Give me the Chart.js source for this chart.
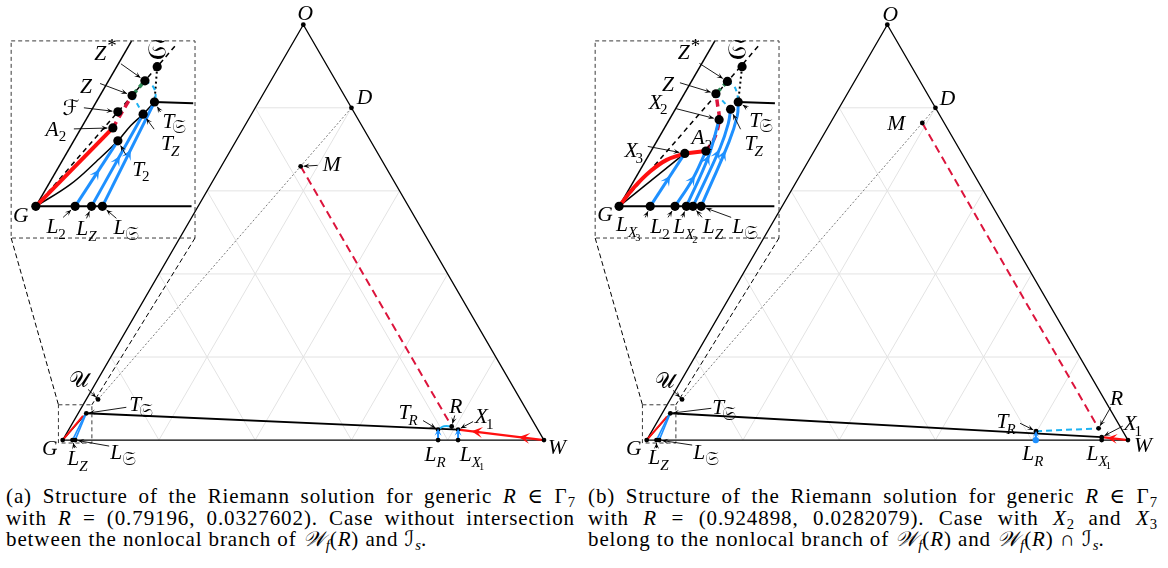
<!DOCTYPE html>
<html>
<head>
<meta charset="utf-8">
<script src="https://cdn.jsdelivr.net/npm/chart.js@4.4.0/dist/chart.umd.min.js"></script>
<style>
  html, body { margin: 0; padding: 0; background: #fff; }
  body { position: relative; width: 1168px; height: 568px; overflow: hidden; }
  canvas { position: absolute; top: 0; }
  .cap { position: absolute; top: 486px; width: 569px; font-family: "Liberation Serif", "DejaVu Serif", serif;
         font-size: 21px; line-height: 21.5px; color: #000; letter-spacing: 0.9px; }
  .cap .j { text-align: justify; text-align-last: justify; }
  .cap sub { font-size: 0.7em; vertical-align: -0.3em; line-height: 0; letter-spacing: 0; }
  .cap .m { font-family: "DejaVu Serif", "DejaVu Sans", serif; font-style: italic; }
</style>
</head>
<body>
<canvas id="panelA" width="584" height="480" style="left:0px"></canvas>
<canvas id="panelB" width="584" height="480" style="left:584px"></canvas>

<div class="cap" style="left:6px">
  <div class="j">(a) Structure of the Riemann solution for generic <i>R</i> ∈ Γ<sub>7</sub></div>
  <div class="j">with <i>R</i> = (0.79196, 0.0327602). Case without intersection</div>
  <div>between the nonlocal branch of <span class="m">𝒲</span><sub><i>f</i></sub>(<i>R</i>) and <span class="m">ℐ</span><sub><i>s</i></sub>.</div>
</div>
<div class="cap" style="left:588px">
  <div class="j">(b) Structure of the Riemann solution for generic <i>R</i> ∈ Γ<sub>7</sub></div>
  <div class="j">with <i>R</i> = (0.924898, 0.0282079). Case with <i>X</i><sub>2</sub> and <i>X</i><sub>3</sub></div>
  <div>belong to the nonlocal branch of <span class="m">𝒲</span><sub><i>f</i></sub>(<i>R</i>) and <span class="m">𝒲</span><sub><i>f</i></sub>(<i>R</i>) ∩ <span class="m">ℐ</span><sub><i>s</i></sub>.</div>
</div>

<script>
// ---------------------------------------------------------------
// States are saturations (sw, so); sg = 1 - sw - so.
// G = (0,0), W = (1,0), O = (0,1).
// ---------------------------------------------------------------
const gridLevels = [0.2, 0.4, 0.6, 0.8];
const vertexG = [0, 0];
const vertexW = [1, 0];
const vertexO = [0, 1];
const stateD = [0.2, 0.8];

// ----- case (a): R = (0.79196, 0.0327602) -----
const a_R   = [0.79196, 0.0327602];
const a_M   = [0.165, 0.659];
const a_U   = [0.0245, 0.098];
const a_TS  = [0.0169, 0.0645];
const a_TZ  = [0.0160, 0.0595];
const a_A2  = [0.0131, 0.0583];
const a_LZ  = [0.0204, 0];
const a_LS  = [0.0260, 0];
const a_X1  = [0.8089, 0.0253];
const a_TR  = [0.7673, 0.0253];
const a_LR  = [0.7800, 0];
const a_LX1 = [0.8215, 0];
const a_rarefTR = [[0.7673, 0.0253], [0.7757, 0.0331], [0.79196, 0.0327602]];

// magnified neighbourhood of G, case (a)
const ia_G   = [0, 0];
const ia_L2  = [0.0173, 0];
const ia_LZ  = [0.0245, 0];
const ia_LS  = [0.0293, 0];
const ia_T2  = [0.0194, 0.0334];
const ia_TZ  = [0.0237, 0.0470];
const ia_TS  = [0.0256, 0.0532];
const ia_A2  = [0.0139, 0.0400];
const ia_F   = [0.0120, 0.0482];
const ia_Z   = [0.0141, 0.0565];
const ia_Zs  = [0.0160, 0.0640];
const ia_S   = [0.0178, 0.0712];
const ia_edgeTop = [0, 0.0843];
const ia_baseEnd = [0.0685, 0];
const ia_tieEnd  = [0.0430, 0.0525];
const ia_gdTop   = [0.0207, 0.0829];
const ia_bifCurve = [[0, 0], [0.0096, 0.0112], [0.0152, 0.0229], [0.0194, 0.0334], [0.0212, 0.0412], [0.0237, 0.0470], [0.0256, 0.0532]];
const ia_nonlocal = [[0.0139, 0.0400], [0.0139, 0.0487], [0.0141, 0.0565]];
const ia_cyanZ  = [[0.0141, 0.0565], [0.0187, 0.0520], [0.0237, 0.0470]];
const ia_cyanZs = [[0.0160, 0.0640], [0.0209, 0.0612], [0.0242, 0.0570], [0.0256, 0.0532]];

// ----- case (b): R = (0.924898, 0.0282079) -----
const b_R   = [0.924898, 0.0282079];
const b_M   = [0.191, 0.7634];
const b_U   = [0.0245, 0.098];
const b_TS  = [0.0169, 0.0645];
const b_TZ  = [0.0160, 0.0595];
const b_A2  = [0.0138, 0.0567];
const b_LZ  = [0.0204, 0];
const b_LS  = [0.0260, 0];
const b_X1  = [0.9419, 0.0071];
const b_TR  = [0.7984, 0.0213];
const b_LR  = [0.8084, 0];
const b_LX1 = [0.9454, 0];

// magnified neighbourhood of G, case (b)
const ib_G   = [0, 0];
const ib_LX3 = [0.0137, 0];
const ib_L2  = [0.0246, 0];
const ib_LX2 = [0.0296, 0];
const ib_LZ  = [0.0325, 0];
const ib_LS  = [0.0361, 0];
const ib_X3  = [0.0154, 0.0270];
const ib_A2  = [0.0241, 0.0282];
const ib_X2  = [0.0219, 0.0442];
const ib_TZ  = [0.0243, 0.0495];
const ib_TS  = [0.0258, 0.0532];
const ib_Z   = [0.0139, 0.0574];
const ib_Zs  = [0.0158, 0.0637];
const ib_S   = [0.0185, 0.0712];
const ib_edgeTop = [0, 0.0843];
const ib_baseEnd = [0.0683, 0];
const ib_tieEnd  = [0.0423, 0.0525];
const ib_gdTop   = [0.0207, 0.0829];
const ib_wave1   = [[0, 0], [0.0017, 0.0095], [0.0048, 0.0179], [0.0091, 0.0237], [0.0154, 0.0270]];
const ib_nonlocal = [[0.0241, 0.0282], [0.0246, 0.0345], [0.0219, 0.0442], [0.0173, 0.0520], [0.0139, 0.0574]];
const ib_cyanZ  = [[0.0139, 0.0574], [0.0198, 0.0529], [0.0243, 0.0495]];
const ib_cyanZs = [[0.0158, 0.0637], [0.0200, 0.0612], [0.0235, 0.0570], [0.0258, 0.0532]];
const ib_fastL2  = [[0.0246, 0], [0.0254, 0.0140], [0.0241, 0.0282]];
const ib_fastLX2 = [[0.0296, 0], [0.0267, 0.0250], [0.0219, 0.0442]];
const ib_fastLZ  = [[0.0325, 0], [0.0295, 0.0300], [0.0270, 0.0420], [0.0243, 0.0495]];
const ib_fastLS  = [[0.0361, 0], [0.0319, 0.0329], [0.0289, 0.0462], [0.0258, 0.0532]];

// ---------------------------------------------------------------
// drawing setup
// ---------------------------------------------------------------
const ZOOM = 4.723;             // magnification of the inset
const CW = 584, CH = 480;       // canvas size
const GX = 59, GY = 444, SIDE = 489;  // pixel place of G and side length
const SQ = Math.sqrt(3) / 2;
const insetFrame = { x0: -0.107, x1: 0.275, y0: 0.4213, y1: 0.8323 };
const zoomFrame  = { x0: -0.0088, x1: 0.0607, y0: -0.0061, y1: 0.0736 };
const LABEL_SIZE = 21.5;

const C = {
  black: '#000', grid: '#e3e3e3', grey: '#7a7a7a', red: '#ff1010', crimson: '#dc143c',
  blue: '#1e90ff', cyan: '#1db2f2', green: '#2e8b57'
};
const SERIF = '"Liberation Serif", "DejaVu Serif", "DejaVu Sans", serif';

function toXY(p) { return { x: p[0] + p[1] / 2, y: p[1] * SQ }; }

function builder(insetOrigin) {
  const datasets = [];
  const conv = (p, frame) => {
    const c = toXY(p);
    return frame === 'inset' ? { x: insetOrigin[0] + ZOOM * c.x, y: insetOrigin[1] + ZOOM * c.y } : c;
  };
  return {
    datasets, conv,
    line(pts, style, frame) {
      datasets.push(Object.assign({
        data: pts.map(p => conv(p, frame || 'main')),
        showLine: true, pointRadius: 0, pointHoverRadius: 0, fill: false,
        borderColor: C.black, borderWidth: 1, tension: 0, clip: false,
        borderCapStyle: 'butt', order: -datasets.length
      }, style));
    },
    dots(pts, r, frame, color) {
      datasets.push({
        data: pts.map(p => conv(p, frame || 'main')), showLine: false,
        pointRadius: r, pointHoverRadius: r, pointBackgroundColor: color || C.black,
        pointBorderWidth: 0, clip: false, order: -datasets.length
      });
    }
  };
}

function addGridAndFrame(B) {
  gridLevels.forEach(c => {
    B.line([[0, c], [1 - c, c]], { borderColor: C.grid, borderWidth: 1 });
    B.line([[c, 0], [c, 1 - c]], { borderColor: C.grid, borderWidth: 1 });
    B.line([[1 - c, 0], [0, 1 - c]], { borderColor: C.grid, borderWidth: 1 });
  });
  B.line([vertexG, vertexW, vertexO, vertexG], { borderWidth: 1.3 });
}

// ---------------- TeX-like label rendering ----------------
function parseTex(s) {
  const out = [];
  let i = 0;
  const takeGroup = () => {
    if (s[i] === '{') {
      let depth = 0; const start = i + 1;
      for (; i < s.length; i++) {
        if (s[i] === '{') depth++;
        else if (s[i] === '}') { depth--; if (depth === 0) break; }
      }
      const inner = s.slice(start, i); i++;
      return parseTex(inner);
    }
    const ch = String.fromCodePoint(s.codePointAt(i)); i += ch.length;
    return [{ t: ch }];
  };
  while (i < s.length) {
    const ch = String.fromCodePoint(s.codePointAt(i));
    if (ch === '_' || ch === '^') {
      i++;
      const g = takeGroup();
      const last = out[out.length - 1];
      if (ch === '_') last.sub = g; else last.sup = g;
    } else { out.push({ t: ch }); i += ch.length; }
  }
  return out;
}
function fontFor(t, size) {
  if (t === '𝔖') return Math.round(size * 1.3) + 'px ' + SERIF;
  if (t === '*') return Math.round(size * 1.25) + 'px ' + SERIF;
  return (/[A-Za-z]/.test(t) ? 'italic ' : '') + size + 'px ' + SERIF;
}
function texWidth(ctx, nodes, size) {
  let w = 0;
  nodes.forEach(n => {
    ctx.font = fontFor(n.t, size);
    w += ctx.measureText(n.t).width;
    if (n.sub || n.sup) {
      w += Math.max(n.sub ? texWidth(ctx, n.sub, size * 0.7) : 0, n.sup ? texWidth(ctx, n.sup, size * 0.7) : 0);
    }
  });
  return w;
}
function texDraw(ctx, nodes, x, base, size) {
  nodes.forEach(n => {
    ctx.font = fontFor(n.t, size);
    ctx.fillText(n.t, x, base);
    x += ctx.measureText(n.t).width;
    if (n.sub || n.sup) {
      let w1 = 0, w2 = 0;
      if (n.sub) { w1 = texWidth(ctx, n.sub, size * 0.7); texDraw(ctx, n.sub, x - (/[TVWXY]/.test(n.t) ? 2 : 0), base + size * 0.26, size * 0.7); }
      if (n.sup) { w2 = texWidth(ctx, n.sup, size * 0.7); texDraw(ctx, n.sup, x + 1, base - size * 0.36, size * 0.7); }
      x += Math.max(w1, w2);
    }
  });
  return x;
}

function head(ctx, x, y, ang, len, half, color) {
  const c = Math.cos(ang), s = Math.sin(ang);
  ctx.save();
  ctx.fillStyle = color;
  ctx.setLineDash([]);
  ctx.beginPath();
  ctx.moveTo(x, y);
  ctx.lineTo(x - len * c - half * s, y - len * s + half * c);
  ctx.lineTo(x - 0.55 * len * c, y - 0.55 * len * s);
  ctx.lineTo(x - len * c + half * s, y - len * s - half * c);
  ctx.closePath();
  ctx.fill();
  ctx.restore();
}

function pointAlong(pts, f) {
  const seg = []; let total = 0;
  for (let i = 1; i < pts.length; i++) {
    const d = Math.hypot(pts[i][0] - pts[i - 1][0], pts[i][1] - pts[i - 1][1]);
    seg.push(d); total += d;
  }
  let target = f * total;
  for (let i = 0; i < seg.length; i++) {
    if (target <= seg[i] || i === seg.length - 1) {
      const t = seg[i] ? target / seg[i] : 0;
      const a = pts[i], b = pts[i + 1];
      return { x: a[0] + (b[0] - a[0]) * t, y: a[1] + (b[1] - a[1]) * t, ang: Math.atan2(b[1] - a[1], b[0] - a[0]) };
    }
    target -= seg[i];
  }
}

function decorPlugin(spec, B) {
  return {
    id: 'decor',
    afterDatasetsDraw(chart) {
      const ctx = chart.ctx, sx = chart.scales.x, sy = chart.scales.y;
      const P = c => [sx.getPixelForValue(c.x), sy.getPixelForValue(c.y)];

      // inset frame, zoomed window and the two connecting lines
      ctx.save();
      ctx.strokeStyle = '#3a3a3a'; ctx.lineWidth = 1; ctx.setLineDash([4, 3]);
      [insetFrame, zoomFrame].forEach(f => {
        const a = P({ x: f.x0, y: f.y1 }), b = P({ x: f.x1, y: f.y0 });
        ctx.strokeRect(a[0], a[1], b[0] - a[0], b[1] - a[1]);
      });
      ctx.strokeStyle = '#000'; ctx.setLineDash([5, 3]);
      [[insetFrame.x0, zoomFrame.x0], [insetFrame.x1, zoomFrame.x1]].forEach(([xi, xz]) => {
        const a = P({ x: xi, y: insetFrame.y0 }), b = P({ x: xz, y: zoomFrame.y1 });
        ctx.beginPath(); ctx.moveTo(a[0], a[1]); ctx.lineTo(b[0], b[1]); ctx.stroke();
      });
      ctx.restore();

      // direction marks along curves
      chart.data.datasets.forEach((ds, i) => {
        if (!ds.arrowAt) return;
        const pts = chart.getDatasetMeta(i).data.map(e => [e.x, e.y]);
        ds.arrowAt.forEach(f => {
          const q = pointAlong(pts, f);
          const L = ds.arrowSize || 8;
          head(ctx, q.x + Math.cos(q.ang) * L / 2, q.y + Math.sin(q.ang) * L / 2, q.ang, L, L * 0.5, ds.borderColor);
        });
      });

      // labels and pointer arrows
      ctx.save();
      ctx.fillStyle = '#000';
      ctx.textBaseline = 'alphabetic';
      spec.labels.forEach(L => {
        const [px, py] = P(B.conv(L.at, L.frame));
        const size = L.size || LABEL_SIZE;
        const cx = px + L.off[0], cy = py + L.off[1];
        const nodes = parseTex(L.tex);
        const w = texWidth(ctx, nodes, size);
        texDraw(ctx, nodes, cx - w / 2, cy + size * 0.32, size);
        if (L.lead) {
          const sx0 = px + L.lead[0], sy0 = py + L.lead[1];
          const gap = L.frame === 'inset' ? 5.5 : 3;
          const d = Math.hypot(px - sx0, py - sy0);
          const ex = px - (px - sx0) / d * gap, ey = py - (py - sy0) / d * gap;
          ctx.save();
          ctx.strokeStyle = '#000'; ctx.lineWidth = 0.9; ctx.setLineDash([]);
          ctx.beginPath(); ctx.moveTo(sx0, sy0); ctx.lineTo(ex, ey); ctx.stroke();
          ctx.restore();
          head(ctx, ex, ey, Math.atan2(ey - sy0, ex - sx0), 6, 2.6, '#000');
        }
      });
      ctx.restore();
    }
  };
}

function makeChart(id, B, spec) {
  new Chart(document.getElementById(id), {
    type: 'scatter',
    data: { datasets: B.datasets },
    options: {
      responsive: false, animation: false, devicePixelRatio: 1, events: [],
      layout: { padding: 0 },
      plugins: { legend: { display: false }, tooltip: { enabled: false } },
      scales: {
        x: { type: 'linear', display: false, min: -GX / SIDE, max: (CW - GX) / SIDE },
        y: { type: 'linear', display: false, min: -(CH - GY) / SIDE, max: GY / SIDE }
      }
    },
    plugins: [decorPlugin(spec, B)]
  });
}

// ---------------------------------------------------------------
// panel (a)
// ---------------------------------------------------------------
(function () {
  const B = builder([-0.0558, 0.4873]);
  addGridAndFrame(B);
  B.line([a_U, stateD], { borderColor: C.grey, borderWidth: 1, borderDash: [2, 2] });
  B.line([a_M, a_R], { borderColor: C.crimson, borderWidth: 2, borderDash: [8, 5] });
  B.line([a_TS, a_X1], { borderWidth: 1.9 });
  B.line([vertexW, a_X1], { borderColor: C.red, borderWidth: 2.4, arrowAt: [0.23, 0.78], arrowSize: 11 });
  B.line(a_rarefTR, { borderColor: C.cyan, borderWidth: 2, tension: 0.4 });
  B.line([a_LR, a_TR], { borderColor: C.blue, borderWidth: 2, arrowAt: [0.75], arrowSize: 7 });
  B.line([a_LX1, a_X1], { borderColor: C.blue, borderWidth: 2, arrowAt: [0.75], arrowSize: 7 });
  // near G
  B.line([vertexG, a_TS], { borderWidth: 1.2 });
  B.line([vertexG, a_A2], { borderColor: C.red, borderWidth: 2 });
  B.line([a_LZ, a_TZ], { borderColor: C.blue, borderWidth: 1.6 });
  B.line([a_LS, a_TS], { borderColor: C.blue, borderWidth: 1.6 });
  B.dots([vertexO, stateD, a_M, a_U, a_TS, a_R, a_TR, a_X1, a_LR, a_LX1, vertexW, a_LZ, a_LS, vertexG], 2.4);

  // inset
  const I = 'inset';
  B.line([ia_G, ia_edgeTop], { borderWidth: 1.5 }, I);
  B.line([ia_G, ia_baseEnd], { borderWidth: 2 }, I);
  B.line([ia_G, ia_gdTop], { borderWidth: 1.5, borderDash: [5, 4] }, I);
  B.line(ia_bifCurve, { borderWidth: 1.5, tension: 0.4 }, I);
  B.line([ia_TS, ia_tieEnd], { borderWidth: 2 }, I);
  B.line([ia_S, ia_TS], { borderWidth: 2, borderDash: [2, 3] }, I);
  B.line([ia_G, ia_A2], { borderColor: C.red, borderWidth: 4 }, I);
  B.line(ia_nonlocal, { borderColor: C.crimson, borderWidth: 3.5, borderDash: [7, 5], tension: 0.3 }, I);
  B.line([ia_Z, ia_Zs], { borderColor: C.green, borderWidth: 3.5, borderDash: [7, 4] }, I);
  B.line(ia_cyanZ, { borderColor: C.cyan, borderWidth: 2, borderDash: [5, 4], tension: 0.3 }, I);
  B.line(ia_cyanZs, { borderColor: C.cyan, borderWidth: 2, borderDash: [5, 4], tension: 0.4 }, I);
  B.line([ia_L2, ia_T2], { borderColor: C.blue, borderWidth: 3, arrowAt: [0.5], arrowSize: 10 }, I);
  B.line([ia_LZ, ia_TZ], { borderColor: C.blue, borderWidth: 3, arrowAt: [0.5], arrowSize: 10 }, I);
  B.line([ia_LS, ia_TS], { borderColor: C.blue, borderWidth: 3, arrowAt: [0.5], arrowSize: 10 }, I);
  B.dots([ia_G, ia_L2, ia_LZ, ia_LS, ia_T2, ia_TZ, ia_TS, ia_A2, ia_F, ia_Z, ia_Zs, ia_S], 4.6, I);

  const labels = [
    { tex: 'O', at: vertexO, off: [2, -12] },
    { tex: 'D', at: stateD, off: [13, -11] },
    { tex: 'M', at: a_M, off: [31, -2], lead: [17, -1] },
    { tex: '𝒰', at: a_U, off: [-19, -19], lead: [-10, -10] },
    { tex: 'T_{𝔖}', at: a_TS, off: [56, -9], lead: [40, -6] },
    { tex: 'G', at: vertexG, off: [-13, 8] },
    { tex: 'L_{Z}', at: a_LZ, off: [5, 18], lead: [2, 8] },
    { tex: 'L_{𝔖}', at: a_LS, off: [48, 12], lead: [34, 6] },
    { tex: 'T_{R}', at: a_TR, off: [-29, -17], lead: [-15, -9] },
    { tex: 'R', at: a_R, off: [4, -20], lead: [3, -11] },
    { tex: 'X_{1}', at: a_X1, off: [27, -13], lead: [15, -8] },
    { tex: 'L_{R}', at: a_LR, off: [-3, 14] },
    { tex: 'L_{X_{1}}', at: a_LX1, off: [15, 14] },
    { tex: 'W', at: vertexW, off: [13, 7] },
    { tex: 'Z^{*}', at: ia_Zs, frame: I, off: [-40, -28], lead: [-24, -17] },
    { tex: '𝔖', at: ia_S, frame: I, off: [0, -15] },
    { tex: 'Z', at: ia_Z, frame: I, off: [-46, -9], lead: [-32, -12] },
    { tex: 'ℱ', at: ia_F, frame: I, off: [-47, -4], lead: [-34, -4] },
    { tex: 'A_{2}', at: ia_A2, frame: I, off: [-57, 1], lead: [-39, 1] },
    { tex: 'T_{𝔖}', at: ia_TS, frame: I, off: [21, 19], lead: [6, 10] },
    { tex: 'T_{Z}', at: ia_TZ, frame: I, off: [28, 29], lead: [11, 15] },
    { tex: 'T_{2}', at: ia_T2, frame: I, off: [24, 28], lead: [8, 14] },
    { tex: 'G', at: ia_G, frame: I, off: [-15, 9] },
    { tex: 'L_{2}', at: ia_L2, frame: I, off: [-19, 20], lead: [-12, 11] },
    { tex: 'L_{Z}', at: ia_LZ, frame: I, off: [-5, 22], lead: [-5, 12] },
    { tex: 'L_{𝔖}', at: ia_LS, frame: I, off: [24, 21], lead: [14, 12] }
  ];
  makeChart('panelA', B, { labels });
})();

// ---------------------------------------------------------------
// panel (b)
// ---------------------------------------------------------------
(function () {
  const B = builder([-0.0573, 0.4873]);
  addGridAndFrame(B);
  B.line([b_U, stateD], { borderColor: C.grey, borderWidth: 1, borderDash: [2, 2] });
  B.line([b_M, b_R], { borderColor: C.crimson, borderWidth: 2, borderDash: [8, 5] });
  B.line([b_TS, b_X1], { borderWidth: 1.9 });
  B.line([b_TR, b_R], { borderColor: C.cyan, borderWidth: 2, borderDash: [6, 4] });
  B.line([vertexW, b_X1], { borderColor: C.red, borderWidth: 2.4, arrowAt: [0.6], arrowSize: 10 });
  B.line([b_LR, b_TR], { borderColor: C.blue, borderWidth: 2, arrowAt: [0.7], arrowSize: 6 });
  B.line([b_LX1, b_X1], { borderColor: C.blue, borderWidth: 2 });
  // near G
  B.line([vertexG, b_TS], { borderWidth: 1.2 });
  B.line([vertexG, b_A2], { borderColor: C.red, borderWidth: 2 });
  B.line([b_LZ, b_TZ], { borderColor: C.blue, borderWidth: 1.6 });
  B.line([b_LS, b_TS], { borderColor: C.blue, borderWidth: 1.6 });
  B.dots([vertexO, stateD, b_M, b_U, b_TS, b_R, b_TR, b_X1, b_LX1, vertexW, b_LZ, b_LS, vertexG], 2.4);
  B.dots([b_LR], 3.2, 'main', C.blue);

  // inset
  const I = 'inset';
  B.line([ib_G, ib_edgeTop], { borderWidth: 1.5 }, I);
  B.line([ib_G, ib_baseEnd], { borderWidth: 2 }, I);
  B.line([ib_G, ib_gdTop], { borderWidth: 1.5, borderDash: [5, 4] }, I);
  B.line([ib_G, ib_X3], { borderWidth: 1.5 }, I);
  B.line([ib_TS, ib_tieEnd], { borderWidth: 2 }, I);
  B.line([ib_S, ib_TS], { borderWidth: 2, borderDash: [2, 3] }, I);
  B.line(ib_wave1, { borderColor: C.red, borderWidth: 4, tension: 0.4 }, I);
  B.line([ib_X3, ib_A2], { borderColor: C.red, borderWidth: 4 }, I);
  B.line(ib_nonlocal, { borderColor: C.crimson, borderWidth: 3.5, borderDash: [7, 5], tension: 0.4 }, I);
  B.line([ib_Z, ib_Zs], { borderColor: C.green, borderWidth: 3.5, borderDash: [7, 4] }, I);
  B.line(ib_cyanZ, { borderColor: C.cyan, borderWidth: 2, borderDash: [5, 4], tension: 0.3 }, I);
  B.line(ib_cyanZs, { borderColor: C.cyan, borderWidth: 2, borderDash: [5, 4], tension: 0.4 }, I);
  B.line([ib_LX3, ib_X3], { borderColor: C.blue, borderWidth: 3, arrowAt: [0.5], arrowSize: 10 }, I);
  B.line(ib_fastL2, { borderColor: C.blue, borderWidth: 3, tension: 0.4, arrowAt: [0.5], arrowSize: 10 }, I);
  B.line(ib_fastLX2, { borderColor: C.blue, borderWidth: 3, tension: 0.4, arrowAt: [0.55], arrowSize: 10 }, I);
  B.line(ib_fastLZ, { borderColor: C.blue, borderWidth: 3, tension: 0.4, arrowAt: [0.55], arrowSize: 10 }, I);
  B.line(ib_fastLS, { borderColor: C.blue, borderWidth: 3, tension: 0.4, arrowAt: [0.5], arrowSize: 10 }, I);
  B.dots([ib_G, ib_LX3, ib_L2, ib_LX2, ib_LZ, ib_LS, ib_X3, ib_A2, ib_X2, ib_TZ, ib_TS, ib_Z, ib_Zs, ib_S], 4.6, I);

  const labels = [
    { tex: 'O', at: vertexO, off: [3, -11] },
    { tex: 'D', at: stateD, off: [12, -10] },
    { tex: 'M', at: b_M, off: [-26, 0] },
    { tex: '𝒰', at: b_U, off: [-17, -18], lead: [-9, -9] },
    { tex: 'T_{𝔖}', at: b_TS, off: [55, -6], lead: [41, -5] },
    { tex: 'G', at: vertexG, off: [-13, 8] },
    { tex: 'L_{Z}', at: b_LZ, off: [2, 17], lead: [0, 8] },
    { tex: 'L_{𝔖}', at: b_LS, off: [47, 12], lead: [33, 5] },
    { tex: 'T_{R}', at: b_TR, off: [-29, -10], lead: [-16, -8] },
    { tex: 'R', at: b_R, off: [18, -30], lead: [12, -21] },
    { tex: 'X_{1}', at: b_X1, off: [32, -14], lead: [21, -11] },
    { tex: 'L_{R}', at: b_LR, off: [-3, 13] },
    { tex: 'L_{X_{1}}', at: b_LX1, off: [-2, 13] },
    { tex: 'W', at: vertexW, off: [15, 5] },
    { tex: 'Z^{*}', at: ib_Zs, frame: I, off: [-39, -29], lead: [-28, -18] },
    { tex: '𝔖', at: ib_S, frame: I, off: [-5, -15] },
    { tex: 'Z', at: ib_Z, frame: I, off: [-48, -10], lead: [-36, -11] },
    { tex: 'X_{2}', at: ib_X2, frame: I, off: [-60, -18], lead: [-43, -11] },
    { tex: 'X_{3}', at: ib_X3, frame: I, off: [-50, -3], lead: [-37, -7] },
    { tex: 'A_{2}', at: ib_A2, frame: I, off: [-4, -14] },
    { tex: 'T_{𝔖}', at: ib_TS, frame: I, off: [24, 18], lead: [9, 6] },
    { tex: 'T_{Z}', at: ib_TZ, frame: I, off: [24, 34], lead: [10, 20] },
    { tex: 'G', at: ib_G, frame: I, off: [-14, 8] },
    { tex: 'L_{X_{3}}', at: ib_LX3, frame: I, off: [-21, 18], lead: [-5, 11] },
    { tex: 'L_{2}', at: ib_L2, frame: I, off: [-15, 20], lead: [-7, 11] },
    { tex: 'L_{X_{2}}', at: ib_LX2, frame: I, off: [0, 20], lead: [-4, 11] },
    { tex: 'L_{Z}', at: ib_LZ, frame: I, off: [20, 20], lead: [9, 11] },
    { tex: 'L_{𝔖}', at: ib_LS, frame: I, off: [44, 20], lead: [30, 11] }
  ];
  makeChart('panelB', B, { labels });
})();
</script>
</body>
</html>
